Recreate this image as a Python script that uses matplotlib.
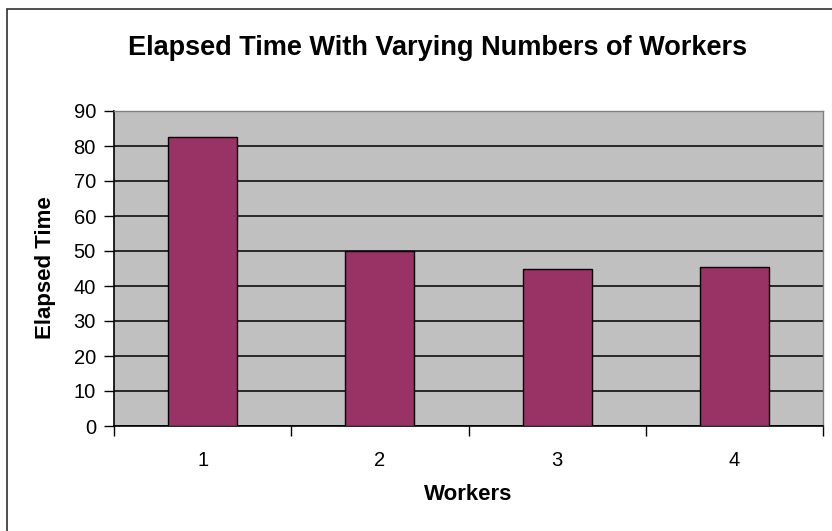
import matplotlib
matplotlib.use("Agg")
import matplotlib.pyplot as plt
from matplotlib.patches import Rectangle

plt.rcParams["font.family"] = ["Liberation Sans", "DejaVu Sans"]

workers = ["1", "2", "3", "4"]
elapsed = [82.5, 50, 45, 45.5]
yticks = list(range(0, 91, 10))

BAR = "#993366"
PLOT_BG = "#c0c0c0"

fig = plt.figure(figsize=(8.32, 5.31), dpi=100)
fig.patch.set_facecolor("white")
# outer chart frame (left/top visible in the screenshot)
fig.patches.append(Rectangle((7/832, -0.05), 1.2, 1 - 9/531 + 0.05, transform=fig.transFigure,
                             fill=False, edgecolor="#303030", lw=1.2))

ax = fig.add_axes([114/832, 1 - 426/531, (823 - 114)/832, (426 - 111)/531])
ax.set_facecolor(PLOT_BG)
x = list(range(len(workers)))
ax.bar(x, elapsed, width=0.39, color=BAR, edgecolor="black", lw=1, zorder=3)

ax.set_xlim(-0.5, len(workers) - 0.5)
ax.set_ylim(0, 90)
ax.set_yticks(yticks)
ax.yaxis.grid(True, color="black", lw=1.1, zorder=1)
ax.set_axisbelow(True)

# category boundary ticks, labels in the middle
ax.set_xticks([i - 0.5 for i in range(len(workers) + 1)])
ax.set_xticklabels([])
ax.set_xticks(x, minor=True)
ax.set_xticklabels(workers, minor=True, fontsize=14.5)
ax.tick_params(axis="x", which="major", length=7, width=1, direction="out", color="black")
ax.tick_params(axis="x", which="minor", length=0, pad=18)
ax.tick_params(axis="y", length=7, width=1, direction="out", labelsize=14.5, pad=6)

for s in ["top", "right"]:
    ax.spines[s].set_color("#808080")
    ax.spines[s].set_linewidth(1)
for s in ["left", "bottom"]:
    ax.spines[s].set_color("black")
    ax.spines[s].set_linewidth(1.2)

xl = ax.set_xlabel("Workers", fontsize=16, fontweight="bold", va="center")
ax.xaxis.set_label_coords((468 - 114)/709, (426 - 494.5)/315)
yl = ax.set_ylabel("Elapsed Time", fontsize=16, fontweight="bold", va="center")
ax.yaxis.set_label_coords((45 - 114)/709, (426 - 268)/315)
fig.text(438/832, 1 - 48/531, "Elapsed Time With Varying Numbers of Workers",
         ha="center", va="center", fontsize=19.5, fontweight="bold")

fig.savefig("out.png", dpi=100)
